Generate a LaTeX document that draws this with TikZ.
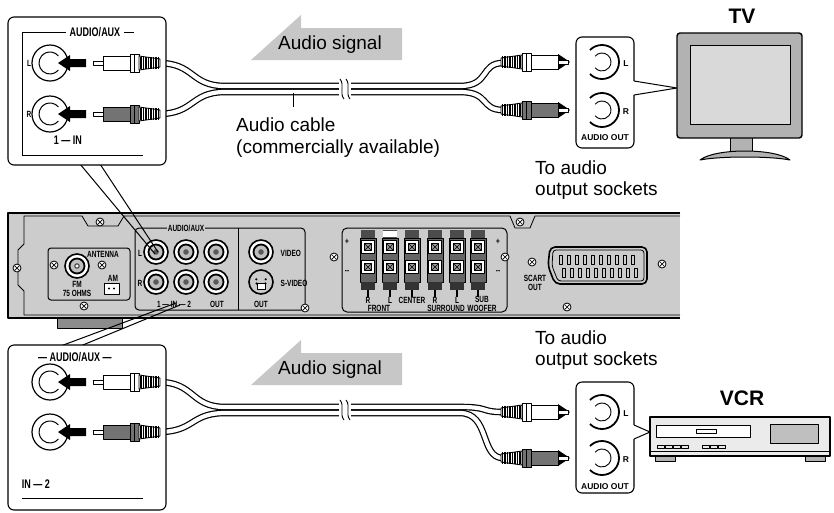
\documentclass[tikz,border=0pt]{standalone}
\usepackage{fontspec}
\setmainfont{Liberation Sans}
\newfontfamily\condfont[FakeStretch=0.72]{Liberation Sans}
\begin{document}
\begin{tikzpicture}[x=1pt,y=-1pt,line join=round,
  big/.style={font=\fontsize{19}{21}\selectfont,inner sep=0},
  title/.style={font=\fontsize{21}{23}\selectfont\bfseries,inner sep=0},
  tiny/.style={font=\condfont\fontsize{9}{9.5}\selectfont\bfseries,inner sep=0.5},
  small/.style={font=\condfont\fontsize{12.5}{13}\selectfont\bfseries,inner sep=0.5},
  lab/.style={font=\fontsize{8.5}{9}\selectfont\bfseries,inner sep=0.5},
  callout/.style={draw,line width=1.1,rounded corners=6,fill=white},
  cable/.style={line width=4.2,white,preaction={draw,black,line width=6.6}},
  sig/.style={fill=black!22},
  pics/plugL/.style={code={
    \draw[line width=0.8,fill=white] (0,-2) rectangle (10,2);
    \draw[line width=0.9,fill=#1] (10,-7) rectangle (37,7);
    \draw[line width=0.9,fill=#1] (37,-9) rectangle (46,9);
    \draw[line width=0.7] (41.5,-9)--(41.5,9);
    \draw[line width=0.9,fill=white] (46,-7)--(67,-4)--(67,4)--(46,7)--cycle;
    \foreach \k in {48,50.5,...,66} \draw[line width=1.1] (\k,-6)--(\k,6);
  }},
  pics/arr/.style={code={
    \fill (0,0)--(12,-8)--(12,-4)--(28,-4)--(28,4)--(12,4)--(12,8)--cycle;}},
  pics/jackin/.style={code={
    \draw[line width=1.2,fill=white] (0,0) circle (18);
    \draw[line width=1] (40:11) arc (40:320:11);}},
  pics/jackout/.style={code={
    \draw[line width=1.8] (-135:17) arc (-135:135:17);
    \draw[line width=0.9] (-140:9) arc (-140:140:9);}},
  pics/pj/.style={code={
    \draw[line width=1.6,fill=white] (0,0) circle (12);
    \draw[line width=1.8,fill=black!25] (0,0) circle (7.5);
    \fill[black!65] (0,0) circle (2.8);}},
  pics/screw/.style={code={
    \draw[line width=0.8,fill=white] (0,0) circle (4);
    \draw[line width=0.7] (-2.5,-2.5)--(2.5,2.5) (-2.5,2.5)--(2.5,-2.5);}},
  pics/brk/.style={code={
    \fill[white] (-3,-8) rectangle (9,8);
    \draw[line width=0.9] (-2,-10) .. controls (3,-4) and (-3,4) .. (2,10);
    \draw[line width=0.9] (4,-10) .. controls (9,-4) and (3,4) .. (8,10);}},
]
\useasboundingbox (0,0) rectangle (834,512);

% ================= audio signal arrows
\fill[sig] (251,60)--(301,15)--(301,28)--(402,28)--(402,60)--cycle;
\node[big] (sig1) at (330,45) {Audio signal};
\fill[sig] (251,385)--(301,340)--(301,353)--(402,353)--(402,385)--cycle;
\node[big] (sig2) at (330,370) {Audio signal};

% ================= top cable
\draw[cable] (158,63) .. controls (195,63) and (190,86) .. (225,86) -- (460,86) .. controls (490,86) and (480,63) .. (503,63);
\draw[cable] (158,114) .. controls (195,114) and (190,92) .. (225,92) -- (460,92) .. controls (490,92) and (480,110) .. (503,110);
\pic at (342,89) {brk};
\draw[line width=1] (293,93)--(293,107);
\node[big,anchor=west] (cab1) at (236,125) {Audio cable};
\node[big,anchor=west] (cab2) at (236,149) {(commercially available)};

% ================= bottom cable
\draw[cable] (158,382) .. controls (195,382) and (190,407) .. (225,407) -- (460,407) .. controls (490,407) and (480,412) .. (503,412);
\draw[cable] (158,432) .. controls (195,432) and (190,413) .. (225,413) -- (460,413) .. controls (490,413) and (480,458) .. (503,458);
\pic at (342,410) {brk};

% ================= rear panel
\fill[black!20] (8,213) rectangle (680,318);
\draw[line width=2.2] (680,213)--(8,213)--(8,318)--(680,318);
\draw[line width=0.8] (680,315)--(24,315)--(24,291)--(18,285)--(18,250)--(24,244)--(24,216)--(82,216)--(88,226)--(118,226)--(124,216)--(510,216)--(515,228)--(530,228)--(535,216)--(680,216);
\draw[line width=1,fill=black!45] (57,318) rectangle (122,328);
\pic at (17,268) {screw}; \pic at (100,222) {screw}; \pic at (520,222) {screw};
% antenna
\draw[line width=1,rounded corners=3] (48,248) rectangle (130,300);
\pic at (77,266) {pj};
\draw[fill=white] (77,266) circle (2);
\pic at (54,265) {screw}; \pic at (102,265) {screw}; \pic at (84,306) {screw};
\node[tiny] at (103,254) {ANTENNA};
\node[tiny,align=center] at (77,289) {FM\\75 OHMS};
\node[tiny] at (113,278) {AM};
\draw[line width=0.8,fill=white] (104,283) rectangle (119,294);
\fill (109,288.5) circle (1.2) (114,288.5) circle (1.2);
% audio aux
\draw[line width=1,rounded corners=4] (135,228) rectangle (305,310);
\draw[line width=1] (238,228)--(238,310);
\node[tiny,fill=black!20] at (186,228) {AUDIO/AUX};
\foreach \xx in {156,186,216} { \pic at (\xx,252) {pj}; \pic at (\xx,282) {pj}; }
\node[tiny] at (140,253) {L}; \node[tiny] at (140,283) {R};
\node[tiny] at (174,304) {1 — IN — 2};
\node[tiny] at (217,304) {OUT};
% video
\pic at (261,252) {pj};
\draw[line width=1.6,fill=black!20] (261,282) circle (12);
\draw[fill=white] (257,283) rectangle (265,289);
\foreach \a in {150,30,200,-20} \fill (261,281)+(\a:5) circle (1.2);
\node[tiny] at (261,304) {OUT};
\node[tiny,anchor=west] at (280,253) {VIDEO};
\node[tiny,anchor=west] at (280,283) {S-VIDEO};
\pic at (305,308) {screw};
% speakers
\draw[line width=1,rounded corners=5] (342,228) rectangle (507,312);
\pic at (334,257) {screw}; \pic at (505,257) {screw};
\node[tiny] at (347,242) {+}; \node[tiny] at (347,272) {--};
\node[tiny] at (498,242) {+}; \node[tiny] at (498,272) {--};
\foreach \xx [count=\i] in {368,390,412,435,457,478} {
  \fill[black!70] (\xx-7,230) rectangle (\xx+7,238);
  \draw[line width=0.8,fill=black!60] (\xx-8,238) rectangle (\xx+8,282);
  \fill[black!80] (\xx-7,282) rectangle (\xx+7,290);
  \draw[line width=1.2] (\xx,290)--(\xx,297);
  \foreach \yy in {247,267} {
    \draw[line width=0.8,fill=white] (\xx-6.5,\yy-6.5) rectangle (\xx+6.5,\yy+6.5);
    \draw[line width=0.8,fill=black!40] (\xx-3.5,\yy-3.5) rectangle (\xx+3.5,\yy+3.5);
    \draw[line width=0.6] (\xx-3.5,\yy-3.5)--(\xx+3.5,\yy+3.5) (\xx-3.5,\yy+3.5)--(\xx+3.5,\yy-3.5);}
}
\fill[white] (383,231) rectangle (397,237);
\node[tiny] at (368,300) {R}; \node[tiny] at (390,300) {L};
\node[tiny] at (379,308) {FRONT};
\node[tiny] at (412,300) {CENTER};
\node[tiny] at (435,300) {R}; \node[tiny] at (457,300) {L};
\node[tiny] at (446,308) {SURROUND};
\node[tiny,align=center] at (482,304) {SUB\\WOOFER};
% scart
\draw[line width=1.6,rounded corners=5] (550,247)--(647,247)--(647,284)--(555,284)--(548,266)--cycle;
\draw[line width=0.8,rounded corners=3] (553,250)--(644,250)--(644,281)--(558,281)--(552,266)--cycle;
\foreach \k in {0,...,9} {
  \draw[line width=0.8] (559+\k*8,255) rectangle (562+\k*8,264);
  \draw[line width=0.8] (562+\k*8,268) rectangle (565+\k*8,277);}
\pic at (532,262) {screw}; \pic at (662,264) {screw}; \pic at (567,307) {screw};
\node[tiny,align=center] at (535,283) {SCART\\OUT};

% ================= top-left callout
\draw[line width=1] (80,164)--(155,254) (100,164)--(158,252);
\draw[callout] (8,17) rectangle (166,165);
\draw[line width=0.9] (22,155)--(22,32)--(66,32) (124,32)--(134,32) (22,155)--(143,155);
\node[small] (aux1) at (95,32) {AUDIO/AUX};
\pic at (50,63) {jackin};  \pic at (50,114) {jackin};
\node[tiny] at (29,63) {L}; \node[tiny] at (29,114) {R};
\node[small] (in1) at (68,140) {1 — IN};
\pic at (58,63) {arr}; \pic at (58,114) {arr};
\pic at (93,63) {plugL=white}; \pic at (93,114) {plugL=black!55};

% ================= bottom-left callout
\draw[line width=1] (58,347)--(176,303) (78,347)--(180,305);
\draw[callout] (8,345) rectangle (166,510);
\draw[line width=0.9] (22,498)--(143,498);
\node[small] (aux2) at (75,357) {— AUDIO/AUX —};
\pic at (50,382) {jackin};  \pic at (50,432) {jackin};
\node[small] (in2) at (36,484) {IN — 2};
\pic at (58,382) {arr}; \pic at (58,432) {arr};
\pic at (93,382) {plugL=white}; \pic at (93,432) {plugL=black!55};

% ================= TV
\draw[callout] (576,37) rectangle (634,148);
\fill[white] (632,81) rectangle (636,95);
\draw[line width=1] (634,81)--(677,88)--(634,95);
\pic at (602,62) {jackout}; \pic at (602,110) {jackout};
\node[lab] at (626,64) {L}; \node[lab] at (626,112) {R};
\node[lab] (ao1) at (605,138) {AUDIO OUT};
\pic[xscale=-1] at (570,62) {arr}; \pic[xscale=-1] at (570,110) {arr};
\pic[xscale=-1] at (568,62) {plugL=white}; \pic[xscale=-1] at (568,110) {plugL=black!55};
\draw[line width=1,fill=black!30] (730,136) rectangle (752,152);
\draw[line width=1,fill=black!30] (700,160) .. controls (715,148) and (775,148) .. (790,160) .. controls (770,156) and (720,156) .. cycle;
\draw[line width=1.4,fill=black!30,rounded corners=3] (677,33) rectangle (802,138);
\draw[line width=1,fill=black!15] (690,45) rectangle (790,124);
\node[title] (tv) at (742,16) {TV};
\node[big,anchor=west,align=left] (to1) at (535,180) {To audio\\output sockets};

% ================= VCR
\draw[callout] (576,382) rectangle (634,493);
\fill[white] (632,425) rectangle (640,439);
\draw[line width=1] (634,425)--(650,432)--(634,439);
\pic at (602,412) {jackout}; \pic at (602,458) {jackout};
\node[lab] at (626,414) {L}; \node[lab] at (626,460) {R};
\node[lab] (ao2) at (605,487) {AUDIO OUT};
\pic[xscale=-1] at (570,412) {arr}; \pic[xscale=-1] at (570,458) {arr};
\pic[xscale=-1] at (568,412) {plugL=white}; \pic[xscale=-1] at (568,458) {plugL=black!55};
\draw[line width=1,fill=black!30] (655,455) rectangle (675,461) (805,455) rectangle (825,461);
\draw[line width=1.2,fill=black!8] (650,417) rectangle (830,456);
\draw[line width=0.9] (650,451)--(830,451);
\draw[line width=0.9,fill=white] (656,425) rectangle (750,437);
\draw[line width=0.8] (696,429) rectangle (716,433);
\draw[line width=0.9,fill=black!25] (770,424) rectangle (818,443);
\foreach \k in {657,665,673,681,702,710,718} \draw[line width=0.8] (\k,445) rectangle (\k+7,448);
\node[title] (vcr) at (742,398) {VCR};
\node[big,anchor=west,align=left] (to2) at (535,350) {To audio\\output sockets};
\end{tikzpicture}
\end{document}
